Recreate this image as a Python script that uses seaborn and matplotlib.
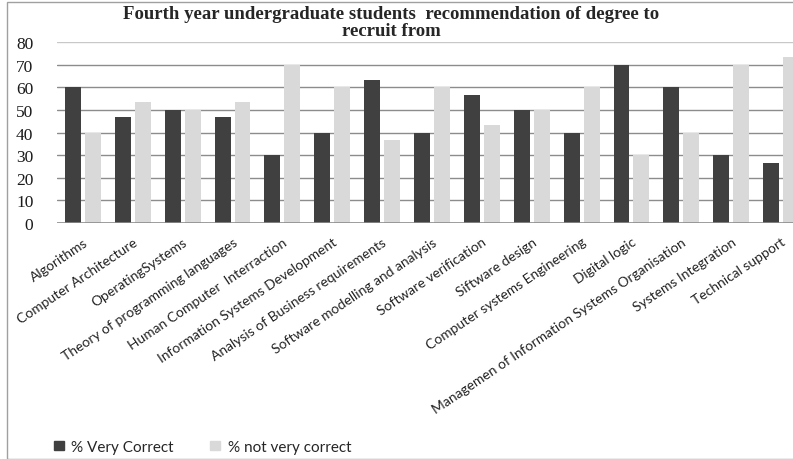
import matplotlib
matplotlib.use("Agg")
import matplotlib.pyplot as plt
import seaborn as sns
import pandas as pd
from matplotlib.patches import Rectangle

categories = [
    "Algorithms", "Computer Architecture", "OperatingSystems",
    "Theory of programming languages", "Human Computer  Interraction",
    "Information Systems Development", "Analysis of Business requirements",
    "Software modelling and analysis", "Software verification",
    "Siftware design", "Computer systems Engineering", "Digital logic",
    "Managemen of Information Systems Organisation", "Systems Integration",
    "Technical support",
]
very_correct = [60, 46.7, 50, 46.7, 30, 40, 63.3, 40, 56.7, 50, 40, 70, 60, 30, 26.7]
not_very_correct = [40, 53.3, 50, 53.3, 70, 60, 36.7, 60, 43.3, 50, 60, 30, 40, 70, 73.3]
series_names = ["% Very Correct", "% not very correct"]
y_ticks = [0, 10, 20, 30, 40, 50, 60, 70, 80]

df = pd.DataFrame({
    "category": categories * 2,
    "value": very_correct + not_very_correct,
    "series": [series_names[0]] * len(categories) + [series_names[1]] * len(categories),
})

sns.set_theme(style="white")
W, H = 793, 460
fig = plt.figure(figsize=(W / 100, H / 100), dpi=100)
ax = fig.add_axes([57 / W, 1 - 224 / H, (800 - 57) / W, (224 - 43) / H])

palette = {series_names[0]: "#404040", series_names[1]: "#d9d9d9"}
sns.barplot(data=df, x="category", y="value", hue="series", palette=palette,
            width=0.8, gap=0.2, ax=ax, legend=False, saturation=1,
            edgecolor="none", linewidth=0)

ax.set_ylim(0, 80)
ax.set_xlim(-0.52, 14.38)
ax.set_yticks(y_ticks)
ax.set_axisbelow(True)
for t in y_ticks[1:]:
    ax.axhline(t, color="#c8c8c8" if t == 80 else "#8c8c8c", lw=1.0, zorder=0)
ax.axhline(0, color="#8c8c8c", lw=1.2, zorder=3)
for s in ax.spines.values():
    s.set_visible(False)
ax.tick_params(axis="both", length=0)
ax.tick_params(axis="y", pad=17)
ax.set_yticklabels([str(t) for t in y_ticks], family="Liberation Serif",
                   fontsize=12.5, color="#1a1a1a")
ax.set_xticks(range(len(categories)))
ax.set_xticklabels(categories, rotation=34, ha="right", va="top",
                   rotation_mode="anchor", family="Lato", fontsize=10,
                   color="#222222")
ax.tick_params(axis="x", pad=9)
ax.set_xlabel("")
ax.set_ylabel("")

fig.text(391 / W, 1 - 23 / H,
         "Fourth year undergraduate students  recommendation of degree to\nrecruit from",
         ha="center", va="center", family="Liberation Serif", fontweight="bold",
         fontsize=13.5, linespacing=1.05)

# legend
handles = [Rectangle((0, 0), 1, 1, color=palette[n]) for n in series_names]
fig.legend(handles, series_names, loc="center left",
           bbox_to_anchor=(40 / W, 1 - 448 / H), ncol=2, frameon=False,
           prop={"family": "Lato", "size": 11}, handlelength=0.65,
           handleheight=0.6, columnspacing=2.4, handletextpad=0.5)

# figure border
fig.add_artist(Rectangle((7 / W, 0), 1.2, 1 - 3 / H, transform=fig.transFigure,
                         fill=False, edgecolor="#a0a0a0", lw=1))

fig.savefig("out.png", dpi=100)
